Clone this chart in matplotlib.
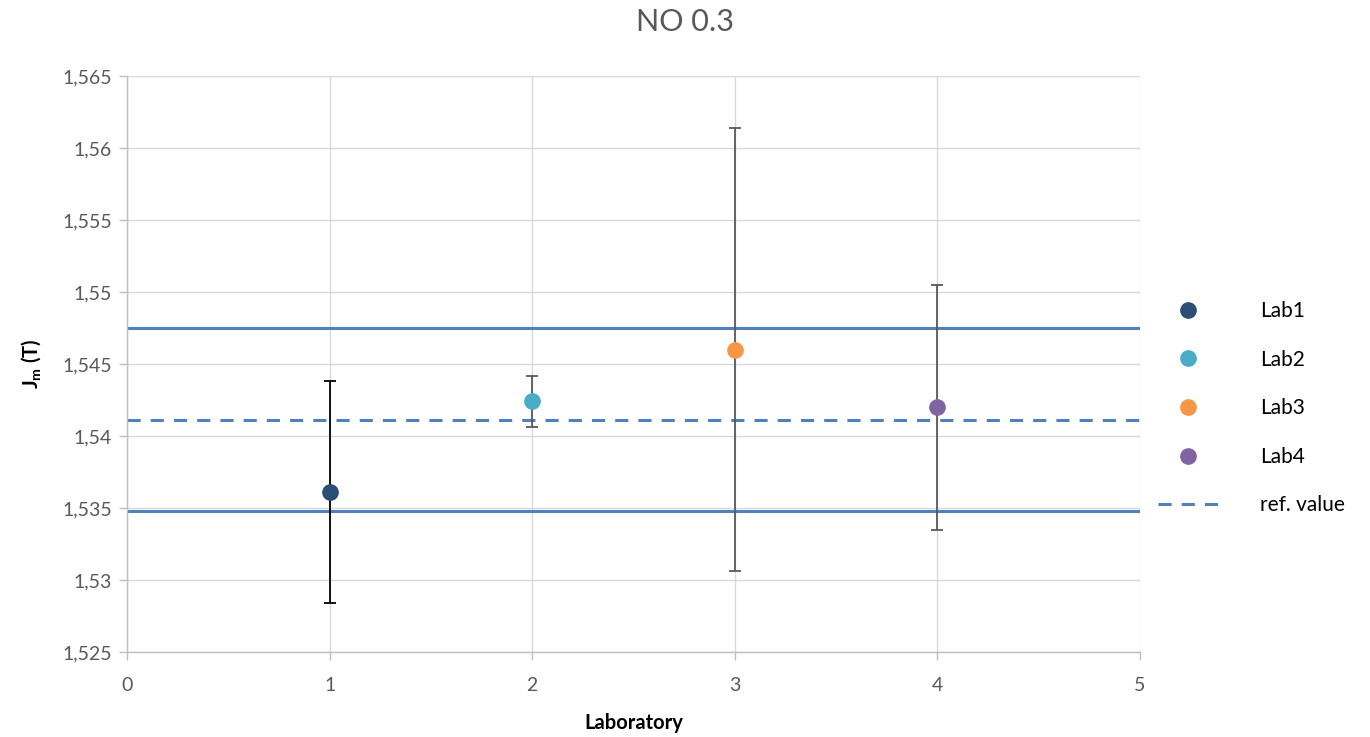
import matplotlib
matplotlib.use("Agg")
import matplotlib.pyplot as plt
from matplotlib.ticker import FuncFormatter, MultipleLocator

plt.rcParams['font.family'] = ['Lato', 'DejaVu Sans']
plt.rcParams['mathtext.fontset'] = 'custom'
plt.rcParams['mathtext.rm'] = 'Lato'
plt.rcParams['mathtext.bf'] = 'Lato:bold'

# data
labs = ["Lab1", "Lab2", "Lab3", "Lab4"]
lab_x = [1, 2, 3, 4]
jm_values = [1.5361, 1.5424, 1.5460, 1.5420]
jm_errors = [0.0077, 0.0018, 0.0154, 0.0085]
lab_colors = ["#2C4D75", "#4BACC6", "#F79646", "#8064A2"]
err_colors = ["#000000", "#595959", "#595959", "#595959"]
ref_value = 1.5411
ref_upper = 1.5475
ref_lower = 1.5348

fig = plt.figure(figsize=(13.7, 7.37), dpi=100)
ax = fig.add_axes([127 / 1370, 85 / 737, 1013 / 1370, 576 / 737])

line_col = "#4F81BD"
ax.axhline(ref_upper, color=line_col, lw=2.2, zorder=2)
ax.axhline(ref_lower, color=line_col, lw=2.2, zorder=2)
ref_line = ax.axhline(ref_value, color=line_col, lw=2.2, dashes=(4.3, 3.3),
                      zorder=2, label="ref. value")

handles = []
for x, y, e, c, ec, name in zip(lab_x, jm_values, jm_errors, lab_colors, err_colors, labs):
    ax.errorbar(x, y, yerr=e, fmt="none", ecolor=ec, elinewidth=1.3,
                capsize=4.5, capthick=1.3, zorder=3)
    h, = ax.plot(x, y, "o", color=c, markersize=11, zorder=4, label=name,
                 linestyle="none")
    handles.append(h)
handles.append(ref_line)

ax.set_xlim(0, 5)
ax.set_ylim(1.525, 1.565)
ax.xaxis.set_major_locator(MultipleLocator(1))
ax.yaxis.set_major_locator(MultipleLocator(0.005))
ax.yaxis.set_major_formatter(FuncFormatter(
    lambda v, p: f"{v:.3f}".rstrip("0").rstrip(".").replace(".", ",")))

ax.grid(True, color="#D9D9D9", lw=1.0, zorder=0)
ax.set_axisbelow(True)
for s in ["top", "right"]:
    ax.spines[s].set_visible(False)
for s in ["left", "bottom"]:
    ax.spines[s].set_color("#BFBFBF")
    ax.spines[s].set_linewidth(1.0)
ax.tick_params(axis="both", colors="#BFBFBF", length=6, width=1.0,
               labelcolor="#595959", labelsize=14)
ax.tick_params(axis="y", pad=5)
ax.tick_params(axis="x", pad=12)

# chart title is centred on the whole figure, like in Excel
fig.text(0.5, 1 - 22 / 737, "NO 0.3", fontsize=22, color="#595959",
         ha="center", va="center")
ax.set_xlabel("Laboratory", fontsize=14.5, fontweight="bold", labelpad=14)
ax.set_ylabel(r"$\mathbf{J_m}$ (T)", fontsize=14.5, fontweight="bold", labelpad=14)

fig.legend(handles=handles, labels=labs + ["ref. value"], loc="center left",
           bbox_to_anchor=(1158 / 1370, 0.446), frameon=False, fontsize=15,
           handlelength=2.9, handletextpad=2.0, labelspacing=1.37,
           borderpad=0, borderaxespad=0)

fig.savefig("out.png", dpi=100)
